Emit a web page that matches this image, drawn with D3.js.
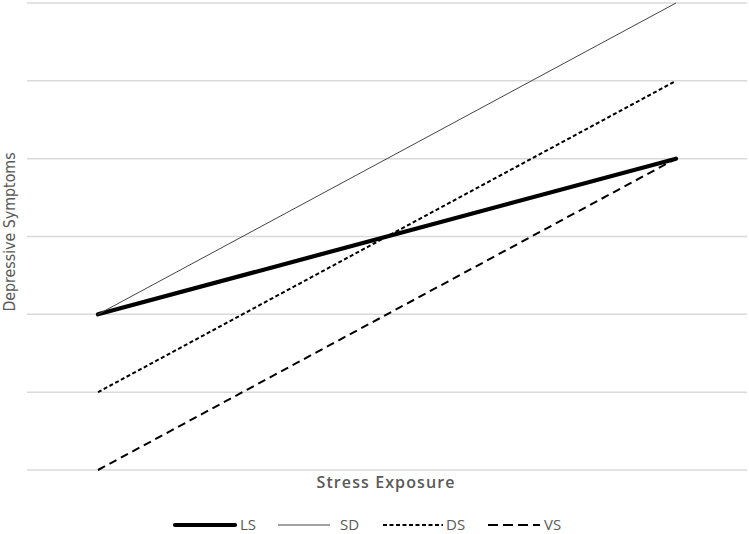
<!DOCTYPE html>
<html><head><meta charset="utf-8">
<script src="https://cdn.jsdelivr.net/npm/d3@7"></script>
<style>body{margin:0;background:#fff}svg{display:block}</style>
</head><body>
<svg id="c" width="749" height="534"></svg>
<script>
const categories = ["Low", "High"];
const seriesNames = ["LS", "SD", "DS", "VS"];
const LS = [2, 4];
const SD = [2, 6];
const DS = [1, 5];
const VS = [0, 4];
const yTicks = [0, 1, 2, 3, 4, 5, 6];

const series = [
  {name: "LS", values: LS, width: 4.2, dash: null, color: "#000"},
  {name: "SD", values: SD, width: 1, dash: null, color: "#444"},
  {name: "DS", values: DS, width: 2, dash: "4,2.5", color: "#000"},
  {name: "VS", values: VS, width: 2, dash: "8,5", color: "#000"}
];

const svg = d3.select("#c");
const x = d3.scalePoint().domain(categories).range([98, 676]);
const y = d3.scaleLinear().domain([0, 6]).range([470, 3]);

svg.append("g").selectAll("line").data(yTicks).join("line")
  .attr("x1", 27).attr("x2", 747)
  .attr("y1", d => y(d)).attr("y2", d => y(d))
  .attr("stroke", "#d9d9d9").attr("stroke-width", 1.5);

const line = d3.line().x((d, i) => x(categories[i])).y(d => y(d));
svg.append("g").selectAll("path").data(series).join("path")
  .attr("d", d => line(d.values))
  .attr("fill", "none")
  .attr("stroke", d => d.color)
  .attr("stroke-width", d => d.width)
  .attr("stroke-dasharray", d => d.dash)
  .attr("stroke-linecap", d => d.name === "LS" ? "round" : "butt");

svg.append("text").attr("x", 386).attr("y", 488).attr("text-anchor", "middle")
  .attr("font-family", "Open Sans, sans-serif").attr("font-size", 16).attr("font-weight", 600)
  .attr("letter-spacing", 1.1)
  .attr("fill", "#595959").text("Stress Exposure");

svg.append("text").attr("transform", "translate(15,232) rotate(-90)").attr("text-anchor", "middle")
  .attr("font-family", "DejaVu Sans Condensed, Liberation Sans Narrow, sans-serif").attr("font-size", 15.8)
  .attr("fill", "#595959").text("Depressive Symptoms");

const legX = [175, 278, 383, 488];
const legW = [60, 52, 60, 52];
const legDash = [null, null, "4,2.5", "10,5"];
const legTextX = [240, 340, 446, 544];
const lg = svg.append("g").selectAll("g").data(series).join("g");
lg.append("line")
  .attr("x1", (d, i) => legX[i]).attr("x2", (d, i) => legX[i] + legW[i])
  .attr("y1", 525).attr("y2", 525)
  .attr("stroke", d => d.color).attr("stroke-width", d => d.width)
  .attr("stroke-dasharray", (d, i) => legDash[i])
  .attr("stroke-linecap", d => d.name === "LS" ? "round" : "butt");
lg.append("text")
  .attr("x", (d, i) => legTextX[i]).attr("y", 530)
  .attr("font-family", "Open Sans, sans-serif").attr("font-size", 15)
  .attr("fill", "#595959").text(d => d.name);
</script>
</body></html>
